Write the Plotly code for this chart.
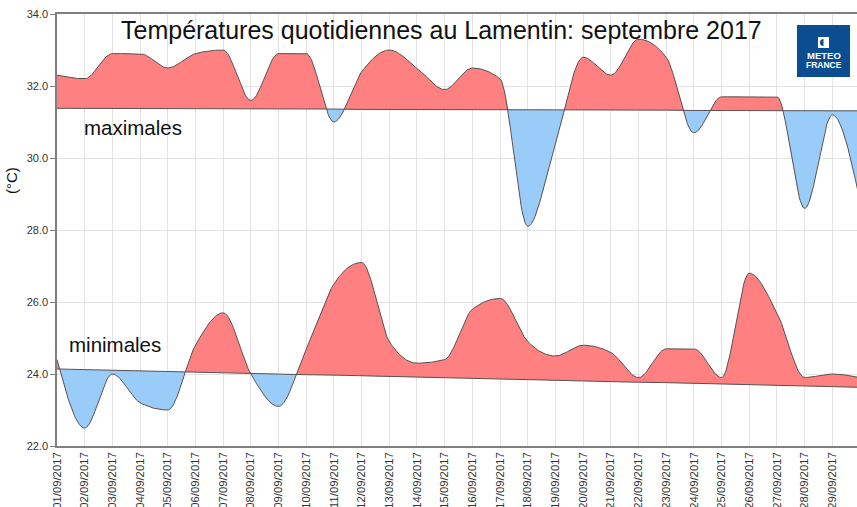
import numpy as np
import plotly.graph_objects as go

# ---------------- data ----------------
days = list(range(1, 31))
date_labels = ["%02d/09/2017" % d for d in days]

tmax = [32.3, 32.2, 32.9, 32.9, 32.5, 32.9, 33.0, 31.6, 32.9, 32.9,
        31.0, 32.4, 33.0, 32.5, 31.9, 32.5, 32.2, 28.1, 30.4, 32.8,
        32.3, 33.3, 32.8, 30.7, 31.7, 31.7, 31.7, 28.6, 31.2, 28.8]
normal_max = [31.38, 31.38, 31.38, 31.37, 31.37, 31.37, 31.37, 31.36, 31.36, 31.36,
              31.36, 31.35, 31.35, 31.35, 31.35, 31.34, 31.34, 31.34, 31.34, 31.33,
              31.33, 31.33, 31.33, 31.32, 31.32, 31.32, 31.32, 31.31, 31.31, 31.31]

tmin = [24.4, 22.5, 24.0, 23.2, 23.0, 24.8, 25.7, 24.0, 23.1, 24.7,
        26.5, 27.1, 24.9, 24.3, 24.4, 25.8, 26.1, 24.9, 24.5, 24.8,
        24.6, 23.9, 24.7, 24.7, 23.9, 26.8, 25.7, 23.9, 24.0, 23.9]
normal_min = [24.14, 24.12, 24.11, 24.09, 24.07, 24.05, 24.04, 24.02, 24.00, 23.98,
              23.97, 23.95, 23.93, 23.91, 23.90, 23.88, 23.86, 23.84, 23.83, 23.81,
              23.79, 23.77, 23.76, 23.74, 23.72, 23.70, 23.69, 23.67, 23.65, 23.63]

y_ticks = [22.0, 24.0, 26.0, 28.0, 30.0, 32.0, 34.0]

TITLE = "Températures quotidiennes au Lamentin: septembre 2017"

RED = "#FF8080"
BLUE = "#99CCF8"
LINE = "#5a5050"


# ------------- monotone (d3 monotoneX-like) smoothing for drawing -------------
def tangents(x, y):
    n = len(x)
    t = [0.0] * n
    for i in range(1, n - 1):
        h0 = x[i] - x[i - 1]
        h1 = x[i + 1] - x[i]
        s0 = (y[i] - y[i - 1]) / h0
        s1 = (y[i + 1] - y[i]) / h1
        p = (s0 * h1 + s1 * h0) / (h0 + h1)
        t[i] = (np.sign(s0) + np.sign(s1)) * min(abs(s0), abs(s1), 0.5 * abs(p))
    t[0] = (3 * (y[1] - y[0]) / (x[1] - x[0]) - t[1]) / 2
    t[-1] = (3 * (y[-1] - y[-2]) / (x[-1] - x[-2]) - t[-2]) / 2
    return t


def smooth(x, y, steps=30):
    t = tangents(x, y)
    xs, ys = [], []
    for i in range(len(x) - 1):
        h = x[i + 1] - x[i]
        for k in range(steps):
            s = k / steps
            h00 = 2 * s**3 - 3 * s**2 + 1
            h10 = s**3 - 2 * s**2 + s
            h01 = -2 * s**3 + 3 * s**2
            h11 = s**3 - s**2
            xs.append(x[i] + s * h)
            ys.append(h00 * y[i] + h10 * h * t[i] + h01 * y[i + 1] + h11 * h * t[i + 1])
    xs.append(x[-1])
    ys.append(y[-1])
    return np.array(xs), np.array(ys)


def split(xs, ys, ref_x, ref_y):
    ns = np.interp(xs, ref_x, ref_y)
    X, Y, N = [xs[0]], [ys[0]], [ns[0]]
    for i in range(1, len(xs)):
        da = ys[i - 1] - ns[i - 1]
        db = ys[i] - ns[i]
        if da * db < 0:
            f = da / (da - db)
            xc = xs[i - 1] + f * (xs[i] - xs[i - 1])
            nc = np.interp(xc, ref_x, ref_y)
            X.append(xc); Y.append(nc); N.append(nc)
        X.append(xs[i]); Y.append(ys[i]); N.append(ns[i])
    X, Y, N = np.array(X), np.array(Y), np.array(N)
    return X, N, np.maximum(Y, N), np.minimum(Y, N), Y


fig = go.Figure()


def add_series(vals, normal):
    xs, ys = smooth(days, vals)
    X, N, up, lo, Y = split(xs, ys, days, normal)
    common = dict(mode="lines", hoverinfo="skip", showlegend=False)
    fig.add_trace(go.Scatter(x=X, y=N, line=dict(width=0), **common))
    fig.add_trace(go.Scatter(x=X, y=up, line=dict(width=0), fill="tonexty",
                             fillcolor=RED, **common))
    fig.add_trace(go.Scatter(x=X, y=N, line=dict(width=0), **common))
    fig.add_trace(go.Scatter(x=X, y=lo, line=dict(width=0), fill="tonexty",
                             fillcolor=BLUE, **common))
    fig.add_trace(go.Scatter(x=X, y=Y, line=dict(color=LINE, width=1), **common))
    fig.add_trace(go.Scatter(x=days, y=normal, line=dict(color=LINE, width=1), **common))


add_series(tmax, normal_max)
add_series(tmin, normal_min)

FONT = "Arial, Liberation Sans, sans-serif"

fig.update_layout(
    width=857, height=507,
    margin=dict(l=57, r=0, t=14, b=61, pad=0),
    paper_bgcolor="white", plot_bgcolor="white",
    font=dict(family=FONT, color="#333333"),
    xaxis=dict(
        range=[1, 29.89], tickvals=days, ticktext=date_labels, tickangle=-90,
        tickfont=dict(size=11.3, color="#333333"),
        showgrid=True, gridcolor="#e3e3e3", gridwidth=1,
        showline=True, linecolor="#808080", linewidth=1.5, mirror=True,
        ticks="", zeroline=False, automargin=False, fixedrange=True,
    ),
    yaxis=dict(
        range=[22, 34], tickvals=y_ticks, tickformat=".1f",
        tickfont=dict(size=11, color="#333333"),
        showgrid=True, gridcolor="#e3e3e3", gridwidth=1,
        showline=True, linecolor="#808080", linewidth=1.5,
        ticks="outside", ticklen=5, tickcolor="#808080",
        zeroline=False, automargin=False, fixedrange=True,
    ),
)


def px_x(v):
    return (v - 57) / 800


def px_y(v):
    return (446 - v) / 432


ann = [
    dict(text=TITLE, xref="paper", yref="paper", x=px_x(441.5), y=px_y(30),
         xanchor="center", yanchor="middle", showarrow=False,
         font=dict(size=25, color="#111111", family=FONT)),
    dict(text="maximales", xref="paper", yref="paper", x=px_x(132.5), y=px_y(127),
         xanchor="center", yanchor="middle", showarrow=False,
         font=dict(size=20.5, color="#111111", family=FONT)),
    dict(text="minimales", xref="paper", yref="paper", x=px_x(115), y=px_y(344),
         xanchor="center", yanchor="middle", showarrow=False,
         font=dict(size=20.5, color="#111111", family=FONT)),
    dict(text="(°C)", xref="paper", yref="paper", x=px_x(11), y=px_y(181),
         xanchor="center", yanchor="middle", textangle=-90, showarrow=False,
         font=dict(size=15, color="#111111", family=FONT)),
    dict(text="<b>METEO</b>", xref="paper", yref="paper", x=px_x(823.5), y=px_y(56),
         xanchor="center", yanchor="middle", showarrow=False,
         font=dict(size=9.5, color="white", family=FONT)),
    dict(text="<b>FRANCE</b>", xref="paper", yref="paper", x=px_x(823.5), y=px_y(65.5),
         xanchor="center", yanchor="middle", showarrow=False,
         font=dict(size=8.5, color="white", family=FONT)),
]
fig.update_layout(annotations=ann)

shapes = [
    dict(type="rect", xref="paper", yref="paper", x0=px_x(797), x1=px_x(850),
         y0=px_y(77), y1=px_y(25), fillcolor="#0B4D91", line=dict(width=0), layer="above"),
    dict(type="rect", xref="paper", yref="paper", x0=px_x(818), x1=px_x(829),
         y0=px_y(48), y1=px_y(37), fillcolor="white", line=dict(width=0), layer="above"),
    dict(type="circle", xref="paper", yref="paper", x0=px_x(820), x1=px_x(827),
         y0=px_y(46), y1=px_y(39), fillcolor="#0B4D91", line=dict(width=0), layer="above"),
    dict(type="rect", xref="paper", yref="paper", x0=px_x(823.5), x1=px_x(827.5),
         y0=px_y(46), y1=px_y(39), fillcolor="white", line=dict(width=0), layer="above"),
]
fig.update_layout(shapes=shapes)

fig.write_html("out.html", config={"displayModeBar": False},
               post_script="document.body.style.margin='0';document.body.style.padding='0';")
